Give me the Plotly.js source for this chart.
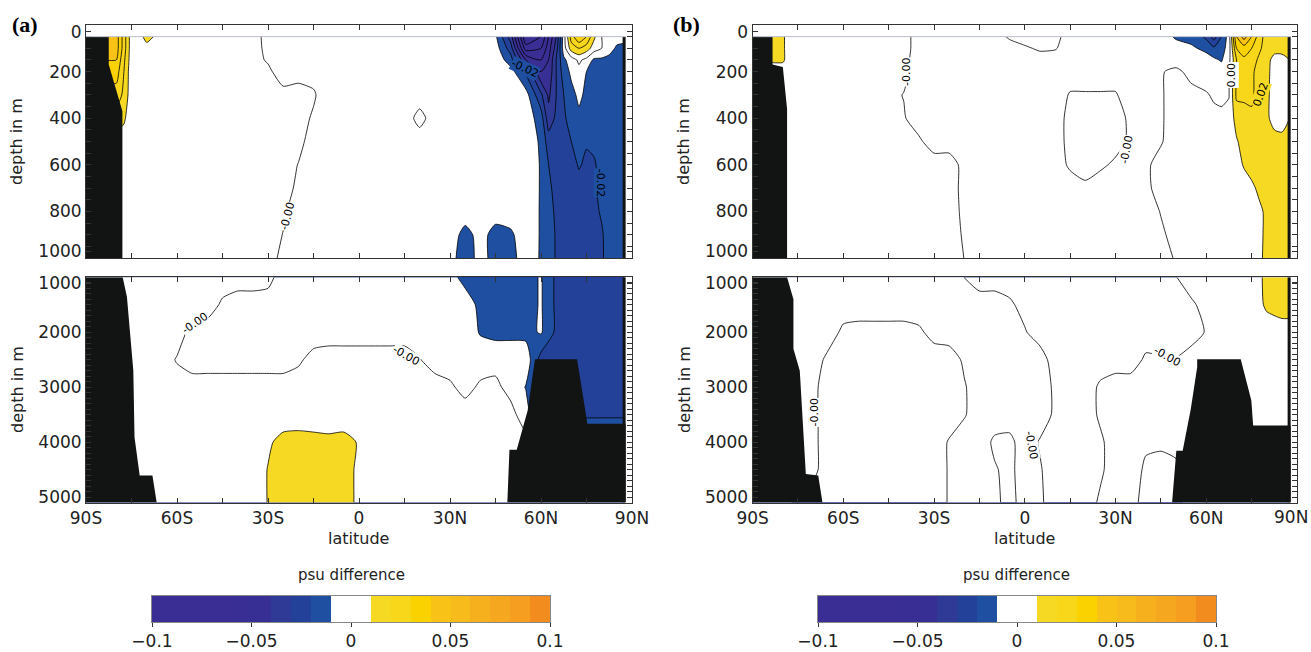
<!DOCTYPE html>
<html><head><meta charset="utf-8">
<script src="https://cdn.plot.ly/plotly-3.0.1.min.js"></script>
<style>html,body{margin:0;padding:0;background:#fff}#chart{width:1311px;height:652px}</style>
</head><body><div id="chart"></div>
<script>
// ---------- grids ----------
const latTop = [-90,-85,-80,-77.5,-75,-70,-60,-50,-40,-35,-30,-25,-20,-15,-10,-5,0,5,10,15,20,25,30,35,40,45,50,55,60,62.5,65,67.5,70,72.5,75,77.5,80,82.5,85,87.5];
const depthTop = [50,100,150,200,300,400,500,600,700,800,900,1000];
const latBot = [-90,-85,-80,-75,-70,-65,-60,-55,-50,-45,-40,-35,-30,-25,-20,-15,-10,-5,0,5,10,15,20,25,30,35,40,45,50,55,60,65,70,75,80,85,87.5];
const depthBot = [1000,1500,2000,2500,3000,3500,4000,4500,5100];

// ---------- salinity difference, in 0.001 psu ----------
const salA_top = [
 [45,45,45,25,4,12, 3,3,3, 3,-2.5,-3,-3,-3,-3,-3,-3,-3,-3,-3,-3,-3,-3,-3,-3, -8,-35,-90, -80,-60,-40,-5,25,40,30,12,0,-3,-5,-6],
 [45,45,45,25,4,8, 3,3,3, 3,-2,-3,-3,-3,-3,-3,-3,-3,-3,-3,-3,-3,-3,-3,-3, -5,-25,-75, -70,-55,-35,-5,15,20,15,5,0,-5,-12,-13],
 [40,40,40,22,4,3, 3,3,3, 3,-1,-3,-3,-3,-3,-3,-3,-3,-3,-3,-3,-3,-3,-3,-3, -3,-15,-50, -60,-50,-30,-12,-5,2,-3,-12,-12,-14,-14,-14],
 [35,35,35,20,3,3, 3,3,3, 3,2,-5,-3,-3,-3,-3,-3,-3,-3,-3,-3,-3,-3,-3,-3, -3,-6,-22, -50,-48,-30,-15,-8,-3,-10,-13,-15,-15,-15,-15],
 [25,25,25,18,3,3, 3,3,3, 3,3,3,3,1,-5,-3,-3,-3,-3,-3,-3,-3,-3,-3,-3, -3,-3,-6, -28,-42,-30,-20,-13,-8,-12,-18,-18,-16,-16,-16],
 [15,15,15,12,2,3, 3,3,3, 3,3,3,3,-1,-3,-3,-3,-3,-3,-3,2,-3,-3,-3,-3, -3,-3,-4, -15,-36,-28,-22,-15,-12,-16,-19,-18,-17,-17,-17],
 [6,6,6,4,2,3, 3,3,3, 3,3,3,2,-3,-3,-3,-3,-3,-3,-3,-3,-3,-3,-3,-3, -3,-3,-2, -12,-25,-26,-24,-20,-15,-19,-18,-17,-16,-16,-16],
 [3,3,3,3,3,3, 3,3,3, 3,3,3,-0.2,-3,-3,-3,-3,-3,-3,-3,-3,-3,-3,-3,-3, -3,-3,-2, -11,-20,-24,-25,-24,-19,-22,-21,-17,-15,-15,-15],
 [3,3,3,3,3,3, 3,3,3, 3,3,3,-1.5,-3,-3,-3,-3,-3,-3,-3,-3,-3,-3,-3,-3, -3,-3,-2, -11,-18,-23,-25,-25,-24,-23,-21,-18,-15,-15,-15],
 [3,3,3,3,3,3, 3,3,3, 3,3,1,-3,-3,-3,-3,-3,-3,-3,-3,-3,-3,-3,-4,-3, -5,-4,-3, -11,-16,-22,-25,-26,-25,-24,-22,-19,-15,-15,-15],
 [3,3,3,3,3,3, 3,3,3, 3,3,-0.2,-3,-3,-3,-3,-3,-3,-3,-3,-3,-3,-4,-14,-6, -14,-12,-3, -11,-15,-21,-25,-26,-26,-25,-23,-21,-16,-15,-15],
 [3,3,3,3,3,3, 3,3,3, 3,3,-2,-3,-3,-3,-3,-3,-3,-3,-3,-3,-3,-6,-16,-6, -14,-14,-4, -11,-15,-21,-25,-26,-26,-25,-23,-21,-17,-15,-15]
];
const salA_bot = [
 [3,3,3,3,3,3,3,3,3,3,3,3, 2,-3, -3,-3,-3,-3,-3,-3,-3,-3,-3,-3, -6,-14,-15,-15,-15,-14,-9,-22,-24,-24,-24,-24,-24],
 [3,3,3,3,3,3,3,3,3, -1, -3,-3,-3,-3,-3,-3,-3,-3,-3,-3,-3,-3,-3,-3,-3, -4,-13,-15,-15,-14,-9,-22,-24,-24,-24,-24,-24],
 [3,3,3,3,3,3,3, -2, -3,-3,-3,-3,-3,-3,-3,-3,-3,-3,-3,-3,-3,-3,-3,-3,-3,-3, -11,-13,-13,-13,-9,-22,-24,-24,-24,-24,-24],
 [3,3,3,3,3,3, -0.5, -3,-3,-3,-3,-3,-3,-3, -1,2, 3,3,3,3,3,3, 0.3,-3, -3,-3,-3,-3,-3, -4, -24,-24,-24, -24,-24,-24,-24],
 [3,3,3,3,3,3,3,3,3,3,3,3,3,3,3,3,3,3,3,3,3,3,3,3, 1,-2,1,2,-3,-10.5,-24,-24,-24,-24,-24,-24,-24],
 [3,3,3,3,3,3,3,3,3,3,3,3,3,3,3,3,3,3,3,3,3,3,3,3,3,3,3,3,3, -5, -22,-22,-22,-22,-22,-22,-22],
 [3,3,3,3,3,3,3,3,3,3,3,3, 8,14,15,14,13,14,9, 3,3,3,3,3,3,3,3,3, 3, 3,3,3,3, -5,-5,-5,-5],
 [3,3,3,3,3,3,3,3,3,3,3,3, 10.5,15,15,15,15,14,8, 3,3,3,3,3,3,3,3,3,3,3,3,3,3,3,3,3,3],
 [3,3,3,3,3,3,3,3,3,3,3,3, 10.5,15,15,15,15,14,8, 3,3,3,3,3,3,3,3,3,3,3,3,3,3,3,3,3,3]
];
const salB_top = [
 [12,12,12,3,3,3, 3,3,3, -3.5,-3,-3,-3,-3,-3,1,3,3,2,-3,-3,-3,-3,-3,-3, -3,-12,-14, -22,-35,-20,-5,40,55,40,25,15,12,12,12],
 [12,12,12,3,3,3, 3,3,3, -3.5,-3,-3,-3,-3,-3,-3,-1,1,0.5,-3,-3,-3,-3,-3,-3, -3,-4,-8, -13,-18,-15,-5,30,35,30,22,15,12,12,12],
 [12,12,12,3,3,3, 3,3,3, -5,-3,-3,-3,-3,-3,-3,-3,-3,-3,-3,-3,-3,-3,-3,-3, -3,-3,-3, -5,-8,-11,-3,20,28,25,18,12,8,8,10],
 [3,3,3,3,3,3, 3,3,1.5, -3,-3,-3,-3,-3,-3,-3,-3,-3,-3,-3,-3,-3,-3,-3,-3, -0.5,1.5,-2, -4,-5,-5,-0.3,20,25,22,16,12,7,7,10],
 [3,3,3,3,3,3, 3,3,-0.2, -3,-3,-3,-3,-3,-3,-3,-3,-3,-3,0.5,0.5,0.5,0.5,-3,-3, -0.5,2,2, 0.7,-1,-2,-0.5,22,22,22,15,12,6,7,10],
 [3,3,3,3,3,3, 3,3,0.5, -3,-3,-3,-3,-3,-3,-3,-3,-3,-3,2,3,3,2,-1,-3, -0.5,2,3, 3,2,2,3,14,16,18,14,12,6,7,10],
 [3,3,3,3,3,3, 3,3,3, 1,-3,-3,-3,-3,-3,-3,-3,-3,-3,2,3,3,2,-1,-3, -0.5,3,3, 3,3,3,4,9,14,16,14,13,14,12,12],
 [3,3,3,3,3,3, 3,3,3, 3,3,3,-2,-3,-3,-3,-3,-3,-3,1,2,1,-1,-3,-1, 2,3,3, 3,3,3,3,6,11,14,14,13,12,12,12],
 [3,3,3,3,3,3, 3,3,3, 3,3,3,-2,-3,-3,-3,-3,-3,-3,-3,-1,-3,-3,-3,-1.5, 2.5,3,3, 3,3,3,3,3,5,8,12,13,13,13,13],
 [3,3,3,3,3,3, 3,3,3, 3,3,3,-1.5,-3,-3,-3,-3,-3,-3,-3,-3,-3,-3,-3,-3, 0.3,3,3, 3,3,3,3,3,3,3,8,12,13,13,13],
 [3,3,3,3,3,3, 3,3,3, 3,3,3,-0.8,-3,-3,-3,-3,-3,-3,-3,-3,-3,-3,-3,-3, -1,2,3, 3,3,3,3,3,3,3,7,13,13,13,13],
 [3,3,3,3,3,3, 3,3,3, 3,3,3,-0.1,-3,-3,-3,-3,-3,-3,-3,-3,-3,-3,-3,-3, -2,0.5,3, 3,3,3,3,3,3,3,7,14,14,14,14]
];
const salB_bot = [
 [3,3,3,3,3,3,3,3,3,3,3,3,3,3, -0.1, -3,-3,-3,-3,-3,-3,-3,-3,-3,-3,-3,-3,-3, -0.2, 3,3,3,3,3, 13,15,15],
 [3,3,3,3,3,3,3,3,3,3,3,3,3,3,3,3,3, 1, -2, -3,-3,-3,-3,-3,-3,-3,-3,-3,-3, -1, 2, 3,3,3, 12,14,14],
 [3,3,3,3,3,3, -1.3, -2,-2,-2,-2, -1, 2, 3,3,3,3,3, 0.5, -3,-3,-3,-3,-3,-3,-3,-3,-3,-3, -3, 0.5, 3,3,3, 4,6,6],
 [3,3,3,3, 3, -1.5, -3,-3,-3,-3,-3,-3,-3,-3, 1, 3,3,3,3,3, -3,-3,-3,-3,-3,-3, 1, 0.5, 0.3, 3, 3,3,3, 3,3,3,3],
 [3,3,3,3, 1, -2, -3,-3,-3,-3,-3,-3,-3,-3, -0.5, 3,3,3,3,3, -1, -3,-3, 1, 3,3,3,3,3,3,3,3,3,3,3,3,3],
 [3,3,3,3, 1, -2, -3,-3,-3,-3,-3,-3,-3,-3, -0.5, 3,3,3,3,3, -1, -3,-3, 1, 3,3,3,3,3,3,3,3,3,3,3,3,3],
 [3,3,3,3, 1, -2, -3,-3,-3,-3,-3,-3,-3, 0.5, 3,3, -1,-1.5, 3, -0.5, -3,-3,-3, -1, 3,3, 1,1, 3,3,3,3,3,3,3,3,3],
 [3,3,3,3, 1, -2, -3,-3,-3,-3,-3,-3,-3, 0.5, 3,3, 0.5,-1.5, 3, 0.5, -3,-3,-3, -1, 3,3, -1,-2,-2, 3,3,3,3,3,3,3,3],
 [3,3,3,-2, -2, -2, -3,-3,-3,-3,-3,-3,-3, 0.5, 3,3, 1,-1.5, 2, 1, -3,-3,-3, 1, 3, 2, -2,-2,-2, 3,3,3,3,3,3,3,3]
];

// ---------- land / topography outlines (latitude, depth m) ----------
const landA_top_S_lat = [-90,-82.5,-82.5,-78,-78,-90];
const landA_top_S_dep = [50,50,170,370,1000,1000];
const landA_bot_S_lat = [-90,-77.9,-76.5,-74.4,-74,-72.3,-68.1,-66.7,-90];
const landA_bot_S_dep = [1000,1000,1359,2695,3910,4608,4608,5100,5100];
const landA_bot_N_lat = [48.9,49.6,49.6,52,55.6,58,71.9,75.3,87.9,87.9];
const landA_bot_N_dep = [5100,4365,4140,4140,3424,2494,2494,3667,3667,5100];
const landB_top_S_lat = [-90,-83.4,-83.4,-80,-78.6,-78.6,-90];
const landB_top_S_dep = [50,50,170,180,360,1000,1000];
const landB_bot_S_lat = [-90,-78.6,-76.5,-76.5,-74.4,-72.4,-68.3,-66.9,-90];
const landB_bot_S_dep = [1000,1000,1400,2300,2700,4580,4610,5100,5100];
const landB_bot_N_lat = [48.7,50.1,52.2,54.9,57,57,71.4,74.9,75.5,87.9,87.9];
const landB_bot_N_dep = [5100,4160,4160,3393,2634,2494,2494,3241,3697,3697,5100];
const pole_lat = [86.9,87.9,87.9,86.9];
const pole_top_dep = [50,50,1000,1000];
const pole_bot_dep = [1000,1000,5100,5100];

// ---------- colour levels and tick labels ----------
const levels = [-0.1,-0.09,-0.08,-0.07,-0.06,-0.05,-0.04,-0.03,-0.02,-0.01,0,0.01,0.02,0.03,0.04,0.05,0.06,0.07,0.08,0.09,0.1];
const bandColors = ['#3a2d93','#3a2d93','#3a2e94','#3a2e94','#392e94','#382f94','#2e3a95','#234198','#1f4fa0','#ffffff',
                    '#ffffff','#f6d923','#f8d61a','#fad200','#f8c216','#f7bb1c','#f6b01e','#f5a81f','#f59e20','#f28c1e'];
const latTickVals = [-90,-75,-60,-45,-30,-15,0,15,30,45,60,75,90];
const latTickText = ['90S','','60S','','30S','','0','','30N','','60N','','90N'];
const latTickTextB = ['90S','','60S','','30S','','0','','30N','','60N','',''];
// label positions as drawn in the original (end labels pulled inside the frame)
const depthTopTickVals = [30,200,400,600,800,970];
const depthTopTickText = ['0','200','400','600','800','1000'];
const depthBotTickVals = [1110,2000,3000,4000,5000];
const depthBotTickText = ['1000','2000','3000','4000','5000'];

// ---------- build ----------
const FONT = 'DejaVu Sans, Liberation Sans, sans-serif';
const colorscale = [];
bandColors.forEach((c,k)=>{ colorscale.push([k/20,c]); colorscale.push([(k+1)/20,c]); });
const LAND = '#121413';

function contour(lat, dep, z, xa, ya){
  return {type:'contour', x:lat, y:dep, z:z.map(r=>r.map(v=>v/1000)), xaxis:xa, yaxis:ya,
    autocontour:false, contours:{start:-0.1,end:0.1,size:0.01,coloring:'fill',showlines:true},
    colorscale:colorscale, zmin:-0.1, zmax:0.1, showscale:false,
    line:{color:'#000',width:0.8,smoothing:0.6}, hoverinfo:'skip'};
}
function land(lat, dep, xa, ya){
  return {type:'scatter', mode:'lines', x:lat, y:dep, fill:'toself', fillcolor:LAND,
    line:{width:0,color:LAND}, xaxis:xa, yaxis:ya, hoverinfo:'skip', showlegend:false};
}
const mids = levels.slice(0,-1).map((v,i)=>(v+levels[i+1])/2);
function cbar(xa, ya){
  return {type:'heatmap', x:levels, y:[0,1], z:[mids], xaxis:xa, yaxis:ya, colorscale:colorscale,
    zmin:-0.1, zmax:0.1, showscale:false, hoverinfo:'skip'};
}

const data = [
  contour(latTop, depthTop, salA_top, 'x','y'),
  land(landA_top_S_lat, landA_top_S_dep, 'x','y'),
  land(pole_lat, pole_top_dep, 'x','y'),
  contour(latBot, depthBot, salA_bot, 'x2','y2'),
  land(landA_bot_S_lat, landA_bot_S_dep, 'x2','y2'),
  land(landA_bot_N_lat, landA_bot_N_dep, 'x2','y2'),
  land(pole_lat, pole_bot_dep, 'x2','y2'),
  contour(latTop, depthTop, salB_top, 'x3','y3'),
  land(landB_top_S_lat, landB_top_S_dep, 'x3','y3'),
  land(pole_lat, pole_top_dep, 'x3','y3'),
  contour(latBot, depthBot, salB_bot, 'x4','y4'),
  land(landB_bot_S_lat, landB_bot_S_dep, 'x4','y4'),
  land(landB_bot_N_lat, landB_bot_N_dep, 'x4','y4'),
  land(pole_lat, pole_bot_dep, 'x4','y4'),
  cbar('x5','y5'),
  cbar('x6','y6')
];

const W = 1311, H = 652;
const px = v => v/W, py = v => 1 - v/H;
const domL = [px(86), px(632)], domR = [px(752.6), px(1297)];
const domT = [py(258), py(25)], domB = [py(502.5), py(277.3)];

function xAxis(dom, anchor, labels, text){
  return {domain:dom, anchor:anchor, range:[-90,90], tickmode:'array', tickvals:latTickVals, ticktext:text||latTickText,
    showticklabels:labels, ticklabeloverflow:'allow', ticks:'inside', ticklen:5, tickcolor:'#333', showline:true, linecolor:'#333', linewidth:1,
    mirror:'allticks', showgrid:false, zeroline:false, tickfont:{family:FONT,size:17,color:'#222'}, fixedrange:true};
}
function yAxis(dom, anchor, range, vals, text, minorD){
  return {domain:dom, anchor:anchor, range:range, tickmode:'array', tickvals:vals, ticktext:text,
    ticks:'inside', ticklen:5, tickcolor:'#333', ticklabeloverflow:'allow',
    minor:{tickmode:'linear', tick0:0, dtick:minorD, ticks:'inside', ticklen:5, tickcolor:'#333', showgrid:false},
    showline:true, linecolor:'#333', linewidth:1, mirror:'allticks', showgrid:false, zeroline:false,
    tickfont:{family:FONT,size:17,color:'#222'}, fixedrange:true};
}
function cbX(dom, anchor){
  return {domain:dom, anchor:anchor, range:[-0.1,0.1], tickmode:'array', tickvals:[-0.1,-0.05,0,0.05,0.1],
    ticktext:['\u22120.1','\u22120.05','0','0.05','0.1'],
    ticks:'outside', ticklen:4, tickcolor:'#333', showline:true, linecolor:'#888', linewidth:1, mirror:true,
    showgrid:false, zeroline:false, tickfont:{family:FONT,size:17,color:'#222'}, fixedrange:true};
}
function cbY(dom, anchor){
  return {domain:dom, anchor:anchor, range:[0,1], showticklabels:false, ticks:'', showline:true, linecolor:'#888',
    linewidth:1, mirror:true, showgrid:false, zeroline:false, fixedrange:true};
}

function lbl(text, x, y, xa, ya, ang, bg){
  return {text:text, x:x, y:y, xref:xa, yref:ya, showarrow:false, textangle:ang, xanchor:'center', yanchor:'middle',
    font:{family:FONT,size:11,color:'#000'}, bgcolor:bg||'#ffffff', borderpad:0};
}
function ptxt(text, x, y, size, ang, extra){
  return Object.assign({text:text, x:px(x), y:py(y), xref:'paper', yref:'paper', showarrow:false,
    xanchor:'center', yanchor:'middle',
    textangle:ang||0, font:{family:FONT,size:size,color:'#222'}}, extra||{});
}

const annotations = [
  ptxt('<b>(a)</b>', 25, 24, 22, 0, {font:{family:'Liberation Serif, Times New Roman, serif',size:22,color:'#000'}}),
  ptxt('<b>(b)</b>', 686, 24, 22, 0, {font:{family:'Liberation Serif, Times New Roman, serif',size:22,color:'#000'}}),
  ptxt('depth in m', 17, 142, 16, -90),
  ptxt('depth in m', 17, 390, 16, -90),
  ptxt('depth in m', 684, 142, 16, -90),
  ptxt('depth in m', 684, 390, 16, -90),
  ptxt('latitude', 358, 538, 16),
  ptxt('latitude', 1024, 538, 16),
  ptxt('psu difference', 351, 575, 15),
  ptxt('psu difference', 1017, 575, 15),
  ptxt('90N', 1310, 517, 17, 0, {xanchor:'right'}),
  // contour labels
  lbl('-0.00', -23.5, 823, 'x','y', -75),
  lbl('-0.02', 54.7, 185, 'x','y', 25, '#1f4fa0'),
  lbl('-0.02', 79.5, 678, 'x','y', 90, '#1f4fa0'),
  lbl('-0.00', -54.2, 1844, 'x2','y2', -35),
  lbl('-0.00', 15.5, 2421, 'x2','y2', 30),
  lbl('-0.00', -39.3, 202, 'x3','y3', -90),
  lbl('-0.00', 33.8, 536, 'x3','y3', -80),
  lbl('0.00', 68.3, 215, 'x3','y3', -90),
  lbl('0.02', 78.1, 300, 'x3','y3', -70, '#f6d923'),
  lbl('-0.00', -69.7, 3460, 'x4','y4', -90),
  lbl('-0.00', 2.2, 4061, 'x4','y4', 80),
  lbl('-0.00', 47, 2440, 'x4','y4', 30)
];

const shapes = [
  {type:'line', xref:'x', yref:'y', x0:-90, x1:87.9, y0:50, y1:50, line:{color:'#c8cad6',width:1}},
  {type:'line', xref:'x3', yref:'y3', x0:-90, x1:87.9, y0:50, y1:50, line:{color:'#c8cad6',width:1}}
];

const layout = {
  width:W, height:H, margin:{l:0,r:0,t:0,b:0}, paper_bgcolor:'#fff', plot_bgcolor:'#fff',
  showlegend:false, font:{family:FONT,color:'#222'},
  xaxis: xAxis(domL,'y',false),  yaxis: yAxis(domT,'x',[1000,0],depthTopTickVals,depthTopTickText,50),
  xaxis2: xAxis(domL,'y2',true), yaxis2: yAxis(domB,'x2',[5100,1000],depthBotTickVals,depthBotTickText,100),
  xaxis3: xAxis(domR,'y3',false), yaxis3: yAxis(domT,'x3',[1000,0],depthTopTickVals,depthTopTickText,50),
  xaxis4: xAxis(domR,'y4',true,latTickTextB), yaxis4: yAxis(domB,'x4',[5100,1000],depthBotTickVals,depthBotTickText,100),
  xaxis5: cbX([px(152),px(550)],'y5'), yaxis5: cbY([py(622),py(596)],'x5'),
  xaxis6: cbX([px(818),px(1216)],'y6'), yaxis6: cbY([py(622),py(596)],'x6'),
  annotations:annotations, shapes:shapes
};

Plotly.newPlot('chart', data, layout, {staticPlot:true, displayModeBar:false});
</script></body></html>
